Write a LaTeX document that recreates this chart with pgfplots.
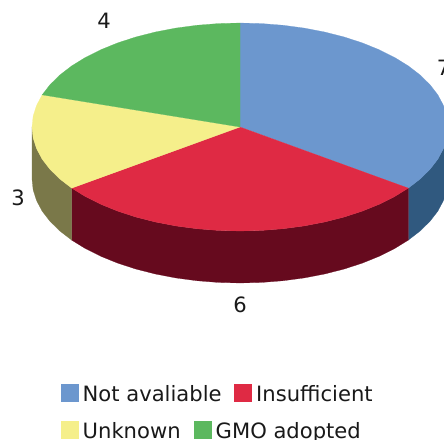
\documentclass[border=0pt]{standalone}
\usepackage{fontspec}
\setmainfont{DejaVu Sans}
\usepackage{pgfplots}
\pgfplotsset{compat=1.18}

\definecolor{cblue}{HTML}{6C97CE}
\definecolor{cred}{HTML}{DF2A44}
\definecolor{cyellow}{HTML}{F5EF8B}
\definecolor{cgreen}{HTML}{5CB85F}
\definecolor{sblue}{HTML}{30597F}
\definecolor{sred}{HTML}{660A1E}
\definecolor{syellow}{HTML}{7A7849}

% slices are 7, 6, 3, 4 of 20, clockwise from the top; outlines are in unit-circle coordinates
\pgfplotsset{
    slice/.style={
        fill=#1, draw=#1, line width=0.2pt, mark=none,
        x filter/.expression={240+208*x},
        y filter/.expression={127-104*y},
    },
    swatch/.style={only marks, mark=square*, mark size=8.5bp, color=#1,
        mark options={fill=#1, draw=#1, line width=0pt}},
}
\tikzset{lab/.style={font=\fontsize{21.1bp}{24bp}\selectfont, text=black!90}}

\begin{document}
\begin{tikzpicture}
\path[use as bounding box, clip] (0,0) rectangle (444bp,440bp);
\begin{axis}[
    at={(0,0)}, anchor=south west,
    width=444bp, height=440bp, scale only axis,
    hide axis, clip=true,
    xmin=0, xmax=444, ymin=0, ymax=440, y dir=reverse,
]
% side walls
\addplot[slice=sblue] coordinates {
    (1,0) (.9945,-.1045) (.9781,-.2079) (.9511,-.3090) (.9135,-.4067) (.8660,-.5) (.8090,-.5878)
    (.8090,-1.0878) (.8660,-1.0) (.9135,-.9067) (.9511,-.8090) (.9781,-.7079) (.9945,-.6045) (1,-.5)
} -- cycle;
\addplot[slice=sred] coordinates {
    (.8090,-.5878) (.7431,-.6691) (.6691,-.7431) (.5878,-.8090) (.5,-.8660) (.4067,-.9135) (.3090,-.9511)
    (.2079,-.9781) (.1045,-.9945) (0,-1) (-.1045,-.9945) (-.2079,-.9781) (-.3090,-.9511) (-.4067,-.9135)
    (-.5,-.8660) (-.5878,-.8090) (-.6691,-.7431) (-.7431,-.6691) (-.8090,-.5878)
    (-.8090,-1.0878) (-.7431,-1.1691) (-.6691,-1.2431) (-.5878,-1.3090) (-.5,-1.3660) (-.4067,-1.4135)
    (-.3090,-1.4511) (-.2079,-1.4781) (-.1045,-1.4945) (0,-1.5) (.1045,-1.4945) (.2079,-1.4781)
    (.3090,-1.4511) (.4067,-1.4135) (.5,-1.3660) (.5878,-1.3090) (.6691,-1.2431) (.7431,-1.1691) (.8090,-1.0878)
} -- cycle;
\addplot[slice=syellow] coordinates {
    (-.8090,-.5878) (-.8660,-.5) (-.9135,-.4067) (-.9511,-.3090) (-.9781,-.2079) (-.9945,-.1045) (-1,0)
    (-1,-.5) (-.9945,-.6045) (-.9781,-.7079) (-.9511,-.8090) (-.9135,-.9067) (-.8660,-1.0) (-.8090,-1.0878)
} -- cycle;
% top face
\addplot[slice=cblue] coordinates {
    (0,0) (0,1) (.1045,.9945) (.2079,.9781) (.3090,.9511) (.4067,.9135) (.5,.8660) (.5878,.8090)
    (.6691,.7431) (.7431,.6691) (.8090,.5878) (.8660,.5) (.9135,.4067) (.9511,.3090) (.9781,.2079)
    (.9945,.1045) (1,0) (.9945,-.1045) (.9781,-.2079) (.9511,-.3090) (.9135,-.4067) (.8660,-.5) (.8090,-.5878)
} -- cycle;
\addplot[slice=cred] coordinates {
    (0,0) (.8090,-.5878) (.7431,-.6691) (.6691,-.7431) (.5878,-.8090) (.5,-.8660) (.4067,-.9135) (.3090,-.9511)
    (.2079,-.9781) (.1045,-.9945) (0,-1) (-.1045,-.9945) (-.2079,-.9781) (-.3090,-.9511) (-.4067,-.9135)
    (-.5,-.8660) (-.5878,-.8090) (-.6691,-.7431) (-.7431,-.6691) (-.8090,-.5878)
} -- cycle;
\addplot[slice=cyellow] coordinates {
    (0,0) (-.8090,-.5878) (-.8660,-.5) (-.9135,-.4067) (-.9511,-.3090) (-.9781,-.2079) (-.9945,-.1045)
    (-1,0) (-.9945,.1045) (-.9781,.2079) (-.9511,.3090)
} -- cycle;
\addplot[slice=cgreen] coordinates {
    (0,0) (-.9511,.3090) (-.9135,.4067) (-.8660,.5) (-.8090,.5878) (-.7431,.6691) (-.6691,.7431)
    (-.5878,.8090) (-.5,.8660) (-.4067,.9135) (-.3090,.9511) (-.2079,.9781) (-.1045,.9945) (0,1)
} -- cycle;

% legend swatches
\addplot[swatch=cblue] coordinates {(69.5,392.5)};
\addplot[swatch=cred] coordinates {(242.5,392.5)};
\addplot[swatch=cyellow] coordinates {(69.5,429.5)};
\addplot[swatch=cgreen] coordinates {(202.5,429.5)};

% value labels
\node[lab] at (104,21) {4};
\node[lab] at (443.5,68) {7};
\node[lab] at (18,198) {3};
\node[lab] at (240,305) {6};

% legend text
\node[lab, anchor=base west, inner sep=0pt] at (82.5,401) {Not avaliable};
\node[lab, anchor=base west, inner sep=0pt] at (256,401) {Insufficient};
\node[lab, anchor=base west, inner sep=0pt] at (82.5,438) {Unknown};
\node[lab, anchor=base west, inner sep=0pt] at (215.5,438) {GMO adopted};
\end{axis}
\end{tikzpicture}
\end{document}
